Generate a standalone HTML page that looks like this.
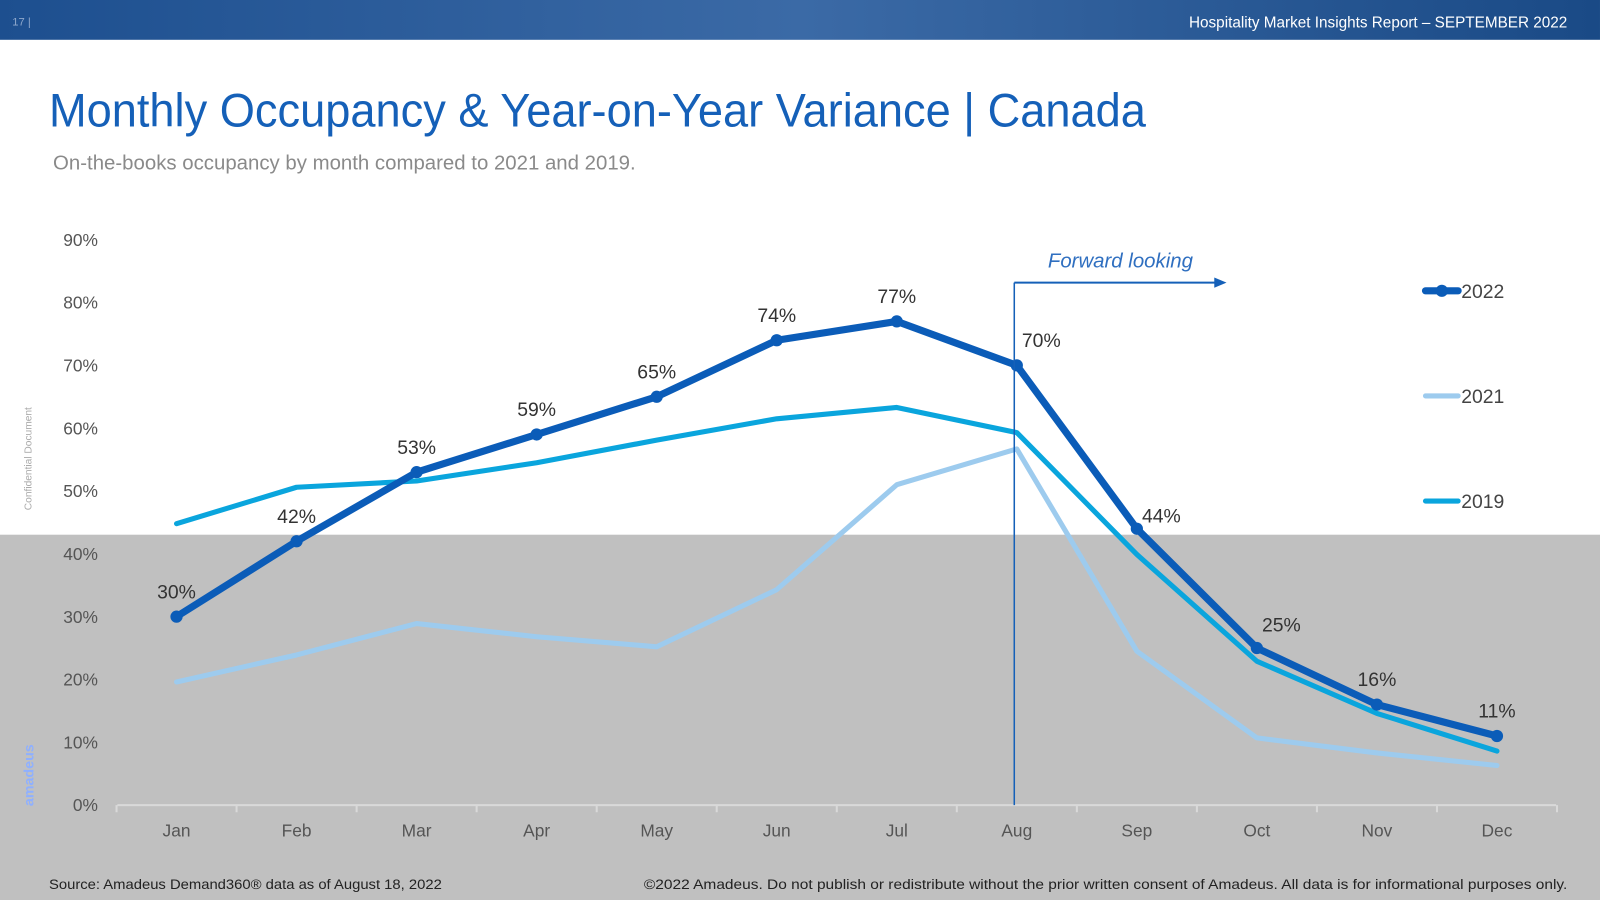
<!DOCTYPE html>
<html><head><meta charset="utf-8">
<style>
html,body{margin:0;padding:0;width:1600px;height:900px;overflow:hidden;background:#fff;font-family:"Liberation Sans",sans-serif;}
#wrap{position:absolute;left:0;top:0;width:1568px;height:882px;transform:scale(1.0204);transform-origin:0 0;}
</style></head>
<body>
<div id="wrap">
<svg id="chart" width="1568" height="882" xmlns="http://www.w3.org/2000/svg">
  <defs>
    <linearGradient id="hdr" x1="0" x2="1" y1="0" y2="0">
      <stop offset="0" stop-color="#1d4f8f"/><stop offset="0.5" stop-color="#3b6aa6"/><stop offset="1" stop-color="#1a4a86"/>
    </linearGradient>
  </defs>
  <rect x="0" y="0" width="1568" height="39" fill="url(#hdr)"/>
  <text x="12" y="25" font-size="11" fill="#8fa8cc">17 |</text>
  <text x="1536" y="27" font-size="15" fill="#fff" text-anchor="end">Hospitality Market Insights Report – SEPTEMBER 2022</text>
  <rect x="0" y="524" width="1568" height="358" fill="#c0c0c0"/>
  <text x="48" y="124" font-size="46" fill="#1560b8" textLength="1075" lengthAdjust="spacingAndGlyphs">Monthly Occupancy &amp; Year-on-Year Variance | Canada</text>
  <text x="52" y="166" font-size="20" fill="#8a8a8a">On-the-books occupancy by month compared to 2021 and 2019.</text>
  <text transform="translate(31,500) rotate(-90)" font-size="10" fill="#aaa">Confidential Document</text>
  <text transform="translate(33,790) rotate(-90)" font-size="14" font-weight="bold" fill="#8fb0ff">amadeus</text>
  <g id="yaxis"></g>
  <g id="xaxis"></g>
  <g id="series"></g>
  <line x1="994" y1="277" x2="994" y2="789" stroke="#1560b8" stroke-width="1.5"/>
  <line x1="994" y1="277" x2="1193" y2="277" stroke="#1560b8" stroke-width="2"/>
  <polygon points="1202,277 1190,272 1190,282" fill="#1560b8"/>
  <text x="1098" y="262" font-size="20" font-style="italic" fill="#2f6fc0" text-anchor="middle">Forward looking</text>
  <g id="legend"></g>
  <text x="48" y="871" font-size="14" fill="#222" textLength="385" lengthAdjust="spacingAndGlyphs">Source: Amadeus Demand360® data as of August 18, 2022</text>
  <text x="631" y="871" font-size="14" fill="#222" textLength="905" lengthAdjust="spacingAndGlyphs">©2022 Amadeus. Do not publish or redistribute without the prior written consent of Amadeus. All data is for informational purposes only.</text>
</svg>
</div>
<script>
const months = ["Jan","Feb","Mar","Apr","May","Jun","Jul","Aug","Sep","Oct","Nov","Dec"];
const occ2022 = [30,42,53,59,65,74,77,70,44,25,16,11];
const occ2021 = [19.6,23.9,28.9,26.8,25.2,34.3,51,56.7,24.5,10.7,8.3,6.3];
const occ2019 = [44.8,50.6,51.6,54.5,58.1,61.5,63.3,59.3,39.9,22.9,14.6,8.6];
const yTicks = [0,10,20,30,40,50,60,70,80,90];
const labels2022 = ["30%","42%","53%","59%","65%","74%","77%","70%","44%","25%","16%","11%"];

const NS="http://www.w3.org/2000/svg";
const x = i => 173 + i*117.64;
const y = v => 789 - v*6.156;
function mk(tag, attrs, parent){const e=document.createElementNS(NS,tag);for(const k in attrs)e.setAttribute(k,attrs[k]);parent.appendChild(e);return e;}
const ya=document.getElementById('yaxis'), xa=document.getElementById('xaxis'), sg=document.getElementById('series'), lg=document.getElementById('legend');
yTicks.forEach(t=>{
  const e=mk('text',{x:96,y:y(t)+6,'font-size':17,fill:'#555','text-anchor':'end'},ya);
  e.textContent=t+'%';
  
  
});
const ax=mk('line',{x1:115,y1:789,x2:1525,y2:789,stroke:'#d9d9d9','stroke-width':2},xa);


for(let i=0;i<=12;i++){
  const tk=mk('line',{x1:x(i)-58.8,y1:789,x2:x(i)-58.8,y2:796,stroke:'#d9d9d9','stroke-width':2},xa);
  
  
}
months.forEach((m,i)=>{
  const e=mk('text',{x:x(i),y:820,'font-size':17,fill:'#555','text-anchor':'middle'},xa);
  e.textContent=m;
  
  
});
function line(data,color,w,name){
  const p=mk('polyline',{points:data.map((v,i)=>x(i)+','+y(v)).join(' '),fill:'none',stroke:color,'stroke-width':w,'stroke-linejoin':'round','stroke-linecap':'round'},sg);
  
  
}
line(occ2021,'#9dcbee',5,'line-2021');
line(occ2019,'#0aa5dd',5,'line-2019');
line(occ2022,'#0b5cb8',7,'line-2022');
occ2022.forEach((v,i)=>{
  const c=mk('circle',{cx:x(i),cy:y(v),r:6,fill:'#0b5cb8'},sg);
  
  
  const dx = (i===7||i===8||i===9)?24:0;
  const dy = (i===8)?-6:(i===9?-16:-18);
  const t=mk('text',{x:x(i)+dx,y:y(v)+dy,'font-size':19,fill:'#333','text-anchor':'middle'},sg);
  t.textContent=labels2022[i];
  
  
});
[["2022",'#0b5cb8',285,true],["2021",'#9dcbee',388,false],["2019",'#0aa5dd',491,false]].forEach(([n,c,yy,m])=>{
  const l=mk('line',{x1:1397,y1:yy,x2:1429,y2:yy,stroke:c,'stroke-width':m?7:5,'stroke-linecap':'round'},lg);
  
  
  if(m){const d=mk('circle',{cx:1413,cy:yy,r:6,fill:c},lg);
    
    }
  const t=mk('text',{x:1432,y:yy+7,'font-size':19,fill:'#444'},lg);
  t.textContent=n;
  
  
});
</script>
</body></html>
